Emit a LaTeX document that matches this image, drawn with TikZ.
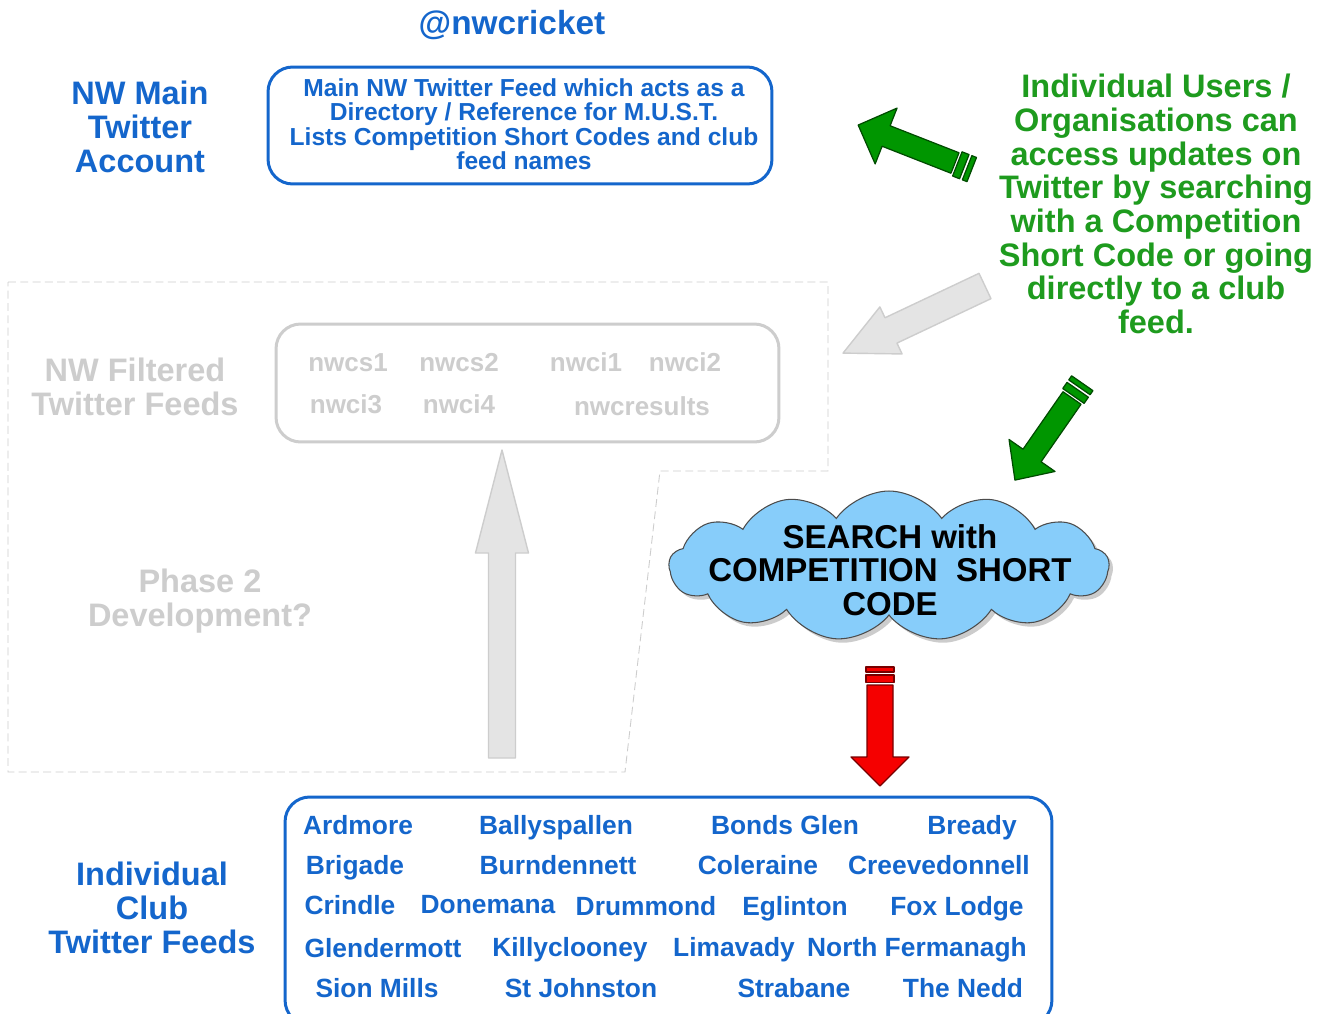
\documentclass[tikz,border=0pt]{standalone}
\usepackage{fontspec}
\setmainfont{Liberation Sans}
\usetikzlibrary{shapes.symbols,shadows}
\definecolor{nwblue}{RGB}{20,102,204}
\definecolor{nwgreen}{RGB}{30,155,30}
\definecolor{arrgreen}{RGB}{0,150,0}
\definecolor{arrgreenD}{RGB}{0,75,0}
\definecolor{arrred}{RGB}{245,0,0}
\definecolor{arrredD}{RGB}{120,0,0}
\definecolor{ltgray}{RGB}{205,205,205}
\definecolor{ltgrayfill}{RGB}{228,228,228}
\definecolor{cloudblue}{RGB}{135,205,250}
\tikzset{
  biglbl/.style={font=\fontsize{18.5}{19.2}\selectfont\bfseries, align=center, inner sep=0pt},
  bluelbl/.style={biglbl, text=nwblue},
  greylbl/.style={biglbl, text=ltgray},
  greenlbl/.style={biglbl, text=nwgreen},
  bluebox/.style={draw=nwblue, line width=1.7pt, rounded corners=14pt},
  greybox/.style={draw=ltgray, line width=1.7pt, rounded corners=14pt},
  club/.style={text=nwblue, font=\fontsize{15}{15}\selectfont\bfseries, inner sep=0pt, text height=10.8pt, text depth=0pt},
  feed/.style={text=ltgray, font=\fontsize{14.8}{15}\selectfont\bfseries, inner sep=0pt, text height=10.6pt, text depth=0pt},
  dashregion/.style={draw=ltgray, line width=0.5pt, dash pattern=on 4.5pt off 2.5pt},
  greenarr/.style={fill=arrgreen, draw=arrgreenD, line width=0.7pt, line join=round},
  redarr/.style={fill=arrred, draw=arrredD, line width=0.7pt, line join=round},
  greyarr/.style={fill=ltgrayfill, draw=ltgray, line width=0.8pt, line join=round},
}
\newcommand\blockarrow[8]{%
  \pgfmathsetmacro\bkA{#4-#5}%
  \pgfmathsetmacro\bkS{#6/2}%
  \pgfmathsetmacro\bkH{#7/2}%
  \begin{scope}[shift={(#1,#2)},rotate=#3]
    \draw[#8] (0,-\bkS) -- (\bkA,-\bkS) -- (\bkA,-\bkH) -- (#4,0) -- (\bkA,\bkH) -- (\bkA,\bkS) -- (0,\bkS) -- cycle;
  \end{scope}}
\newcommand\tailstripes[5]{%
  \begin{scope}[shift={(#1,#2)},rotate=#3]
    \draw[#5] (-10,-#4) rectangle (-2.5,#4);
    \draw[#5] (-18,-#4) rectangle (-13,#4);
  \end{scope}}
\begin{document}
\begin{tikzpicture}[x=0.02cm,y=-0.02cm]
\useasboundingbox[fill=white] (0,0) rectangle (1330,1014);

% Phase 2 region
\draw[dashregion] (8,282) -- (828,282) -- (828,471) -- (660,471) -- (625,772) -- (8,772) -- cycle;

% Title and top row
\node[bluelbl, font=\fontsize{19}{20}\selectfont\bfseries] (title) at (512,25) {@nwcricket};
\node[bluelbl] (mainlbl) at (140,127) {NW Main\\Twitter\\Account};
\node[bluebox, minimum width=10.08cm, minimum height=2.34cm] (mainbox) at (520,125.5) {};
\node[text=nwblue, font=\fontsize{14}{13.9}\selectfont\bfseries, align=center, inner sep=0pt] (maintext) at (524,124)
  {Main NW Twitter Feed which acts as a\\Directory / Reference for M.U.S.T.\\Lists Competition Short Codes and club\\feed names};

\node[greenlbl] (users) at (1156,204) {Individual Users /\\Organisations can\\access updates on\\Twitter by searching\\with a Competition\\Short Code or going\\directly to a club\\feed.};

% Filtered feeds (greyed)
\node[greylbl] (filtlbl) at (135,387) {NW Filtered\\Twitter Feeds};
\node[greybox, minimum width=10.06cm, minimum height=2.36cm] (filtbox) at (527.5,383) {};
\node[feed] (f1) at (348,362) {nwcs1};
\node[feed] (f2) at (459,362) {nwcs2};
\node[feed] (f3) at (586,362) {nwci1};
\node[feed] (f4) at (685,362) {nwci2};
\node[feed] (f5) at (346,404) {nwci3};
\node[feed] (f6) at (459,404) {nwci4};
\node[feed] (f7) at (642,406) {nwcresults};
\node[greylbl] (phase) at (200,601) {Phase 2\\Development?};

% Cloud
\node[cloud, cloud puffs=13, cloud puff arc=110, cloud ignores aspect,
      minimum width=8.8cm, minimum height=3.0cm, fill=cloudblue, draw=black!70, line width=0.6pt,
      drop shadow={shadow xshift=2.2pt, shadow yshift=-2.2pt, opacity=0.4}] (cloud) at (889,566) {};
\node[biglbl, font=\fontsize{18.8}{19}\selectfont\bfseries] (cloudtext) at (890,570) {SEARCH with\\COMPETITION~~SHORT\\CODE};

% Club feeds
\node[bluelbl] (clublbl) at (152,908) {Individual\\Club\\Twitter Feeds};
\node[bluebox, minimum width=15.34cm, minimum height=4.56cm] (clubbox) at (668.5,911) {};
\node[club] (c1) at (358,825) {Ardmore};
\node[club] (c2) at (556,825) {Ballyspallen};
\node[club] (c3) at (785,825) {Bonds Glen};
\node[club] (c4) at (972,825) {Bready};
\node[club] (c5) at (355,865) {Brigade};
\node[club] (c6) at (558,865) {Burndennett};
\node[club] (c7) at (758,865) {Coleraine};
\node[club] (c8) at (939,865) {Creevedonnell};
\node[club] (c9) at (350,905) {Crindle};
\node[club] (c10) at (488,904) {Donemana};
\node[club] (c11) at (646,906) {Drummond};
\node[club] (c12) at (795,906) {Eglinton};
\node[club] (c13) at (957,906) {Fox Lodge};
\node[club] (c14) at (383,948) {Glendermott};
\node[club] (c15) at (570,947) {Killyclooney};
\node[club] (c16) at (734,947) {Limavady};
\node[club] (c17) at (917,947) {North Fermanagh};
\node[club] (c18) at (377,988) {Sion Mills};
\node[club] (c19) at (581,988) {St Johnston};
\node[club] (c20) at (794,988) {Strabane};
\node[club] (c21) at (963,988) {The Nedd};

% Block arrows
\blockarrow{502}{758}{90}{308}{103}{27}{53}{greyarr}
\blockarrow{985}{286}{205.3}{157}{53}{28}{52}{greyarr}
\blockarrow{955}{163}{158.6}{104}{30}{22}{60}{greenarr}
\tailstripes{955}{163}{158.6}{13}{greenarr}
\blockarrow{1072}{398}{235.2}{100}{30}{22}{56}{greenarr}
\tailstripes{1072}{398}{235.2}{13}{greenarr}
\blockarrow{880}{685}{270}{101}{29}{26}{58}{redarr}
\tailstripes{880}{685}{270}{14}{redarr}
\end{tikzpicture}
\end{document}
